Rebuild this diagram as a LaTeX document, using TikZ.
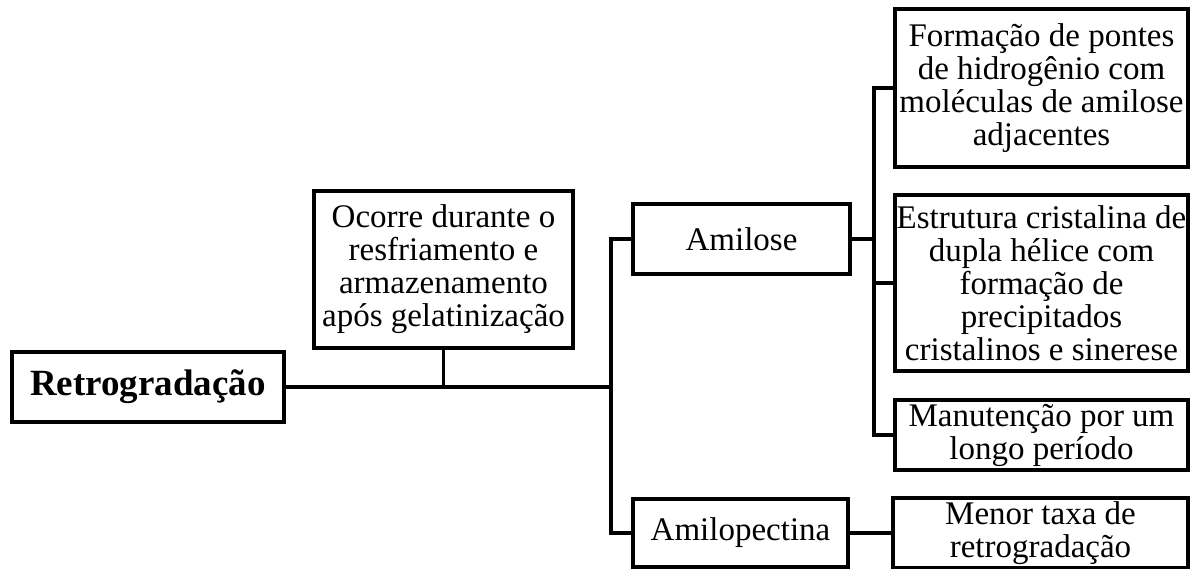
\documentclass[tikz,border=0pt]{standalone}
\usepackage{fontspec}
\setmainfont{Liberation Serif}
\usepackage{tikz}
\tikzset{
  box/.style={draw,line width=3.5pt,align=center,inner sep=1pt,font=\fontsize{33}{33}\selectfont},
  rootbox/.style={box,font=\fontsize{37}{40}\selectfont\bfseries},
  ln/.style={line width=3.5pt}
}
\begin{document}
\begin{tikzpicture}[x=1pt,y=-1pt]
\useasboundingbox (0,0) rectangle (1190,569);
\clip (0,0) rectangle (1190,569);
\node[rootbox,minimum width=272,minimum height=70] (retro) at (148,387) {Retrogradação};
\node[box,minimum width=259,minimum height=157] (ocorre) at (443.5,269.5) {Ocorre durante o\\resfriamento e\\armazenamento\\após gelatinização};
\node[box,minimum width=217,minimum height=70] (amil) at (741.5,239) {Amilose};
\node[box,minimum width=215,minimum height=68] (amilp) at (740.5,533) {Amilopectina};
\node[box,minimum width=293,minimum height=158] (form) at (1041.5,88) {Formação de pontes\\de hidrogênio com\\moléculas de amilose\\adjacentes};
\node[box,minimum width=293,minimum height=176] (estr) at (1041.5,283) {Estrutura cristalina de\\dupla hélice com\\formação de\\precipitados\\cristalinos e sinerese};
\node[box,minimum width=293,minimum height=70] (manu) at (1041.5,435) {Manutenção por um\\longo período};
\node[box,minimum width=295,minimum height=70] (menor) at (1040.5,533) {Menor taxa de\\retrogradação};
\coordinate (tr1) at (611,387);
\coordinate (tr2) at (874,239);
\draw[ln] (retro.east) -- (tr1);
\draw[ln] (ocorre.south) -- (ocorre.south |- tr1);
\draw[ln] (amil.west) -| (tr1) |- (amilp.west);
\draw[ln] (amil.east) -- (tr2);
\draw[ln] (form.west) -| (tr2) |- (manu.west);
\draw[ln] (estr.west) -- (estr.west -| tr2);
\draw[ln] (amilp.east) -- (menor.west);
\end{tikzpicture}
\end{document}
